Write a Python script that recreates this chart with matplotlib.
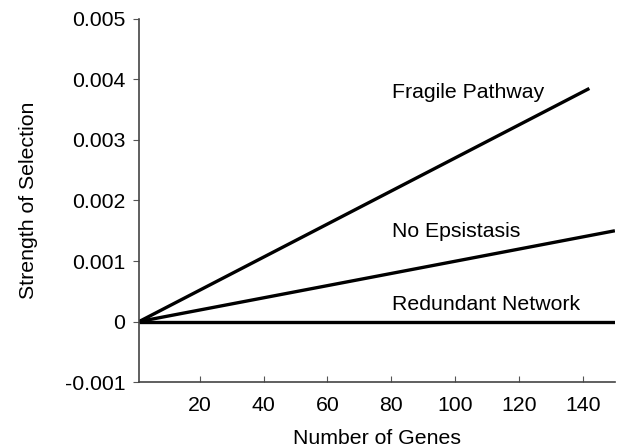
import matplotlib
matplotlib.use('Agg')
import matplotlib.pyplot as plt

plt.rcParams['font.family'] = ['Liberation Sans', 'DejaVu Sans']

# end points of each line (number of genes, strength of selection)
genes_fragile = [1, 142]
sel_fragile = [0.0, 0.00385]
genes_noepi = [1, 150]
sel_noepi = [0.0, 0.0015]
genes_redundant = [1, 150]
sel_redundant = [0.0, 0.0]

labels = ['Fragile Pathway', 'No Epsistasis', 'Redundant Network']
label_y = [0.00378, 0.00149, 0.00028]

fig = plt.figure(figsize=(6.18, 4.48), dpi=100)
ax = fig.add_axes([0.225, 0.147, 0.77, 0.811])

for g, s in [(genes_fragile, sel_fragile), (genes_noepi, sel_noepi), (genes_redundant, sel_redundant)]:
    ax.plot(g, s, color='black', linewidth=2.4, solid_capstyle='butt')

for lab, yy in zip(labels, label_y):
    ax.text(80.3, yy, lab, fontsize=15.3, va='center', ha='left')

ax.set_xlim(1, 150)
ax.set_ylim(-0.001, 0.005)
ax.set_xticks([20, 40, 60, 80, 100, 120, 140])
ax.set_yticks([-0.001, 0, 0.001, 0.002, 0.003, 0.004, 0.005])
ax.set_yticklabels(['-0.001', '0', '0.001', '0.002', '0.003', '0.004', '0.005'])
ax.tick_params(axis='x', direction='in', length=4, labelsize=15.3, pad=10, color='#555555')
ax.tick_params(axis='y', direction='out', length=4, labelsize=15.3, pad=6, color='#555555')

for side in ['top', 'right']:
    ax.spines[side].set_visible(False)
for side in ['left', 'bottom']:
    ax.spines[side].set_color('#444444')
    ax.spines[side].set_linewidth(1.2)

ax.set_xlabel('Number of Genes', fontsize=15.3, labelpad=10)
ax.set_ylabel('Strength of Selection', fontsize=15.3, labelpad=19)

fig.savefig('out.png', dpi=100)
